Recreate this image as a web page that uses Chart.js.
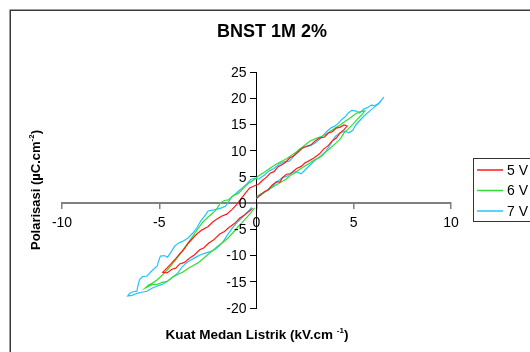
<!DOCTYPE html>
<html><head><meta charset="utf-8">
<script src="https://cdn.jsdelivr.net/npm/chart.js@4/dist/chart.umd.min.js"></script>
<style>html,body{margin:0;padding:0;background:#fff;}canvas{display:block;}</style>
</head><body>
<canvas id="c" width="530" height="352"></canvas>
<script>
const chartTitle = 'BNST 1M 2%';
const xTitle = ['Kuat Medan Listrik (kV.cm ', '-1', ')'];
const yTitle = ['Polarisasi (µC.cm', '-2', ')'];
const seriesLabels = ['5 V', '6 V', '7 V'];
const xTicks = [-10, -5, 0, 5, 10];
const yTicks = [-20, -15, -10, -5, 0, 5, 10, 15, 20, 25];

// 5 V loop: E (kV/cm) and P (uC/cm2)
const e5 = [0.0,0.2,0.42,0.6,0.8,1.03,1.2,1.35,1.54,1.75,2.06,2.3,2.5,2.72,2.95,3.24,3.45,3.7,3.9,4.1,4.3,4.5,4.66,
 4.5,4.3,4.1,3.9,3.7,3.5,3.24,3.0,2.8,2.6,2.36,2.1,1.9,1.7,1.5,1.34,1.1,0.9,0.7,0.5,0.3,0.1,-0.1,-0.35,-0.55,-0.8,-1.02,-1.25,-1.53,-1.8,-2.05,-2.25,-2.5,-2.8,-3.07,-3.3,-3.5,-3.75,-3.95,-4.15,-4.4,-4.61,-4.82,
 -4.6,-4.35,-4.15,-3.95,-3.7,-3.45,-3.2,-2.92,-2.7,-2.45,-2.2,-1.89,-1.65,-1.4,-1.1,-0.87,-0.6,-0.4,-0.2];
const p5 = [0.9,1.5,2.2,2.5,3.4,4.1,4.0,4.9,5.5,5.6,6.6,7.0,7.7,8.1,8.6,9.4,10.3,11.0,11.9,12.4,13.4,14.0,14.7,
 14.9,14.5,14.3,13.6,13.4,12.6,12.4,11.8,11.1,10.9,10.5,9.6,9.0,8.6,7.8,7.4,6.9,6.0,5.7,4.9,4.3,3.6,3.3,2.9,2.0,0.8,-0.3,-1.2,-2.1,-2.5,-3.1,-3.6,-4.5,-5.1,-5.9,-6.8,-7.6,-8.9,-9.7,-10.6,-11.6,-12.4,-13.2,
 -13.3,-12.6,-12.4,-11.6,-11.3,-10.5,-9.9,-8.9,-8.5,-7.6,-7.0,-5.9,-5.4,-4.6,-3.8,-2.9,-2.2,-1.6,-1.0];

// 6 V loop
const e6 = [0.0,0.3,0.6,0.9,1.2,1.5,1.75,1.95,2.2,2.45,2.73,3.0,3.2,3.36,3.6,3.8,4.04,4.3,4.5,4.71,4.95,5.19,5.4,5.57,
 5.3,5.08,4.8,4.56,4.3,4.04,3.7,3.41,3.1,2.73,2.4,2.2,1.95,1.6,1.32,1.0,0.64,0.4,0.12,-0.15,-0.4,-0.65,-0.92,-1.2,-1.45,-1.65,-1.85,-2.05,-2.25,-2.5,-2.75,-3.0,-3.27,-3.5,-3.8,-4.05,-4.32,-4.6,-4.84,-5.1,-5.36,-5.55,-5.73,
 -5.4,-5.1,-4.85,-4.58,-4.3,-4.05,-3.8,-3.5,-3.25,-3.01,-2.75,-2.5,-2.23,-1.95,-1.7,-1.45,-1.2,-0.95,-0.77,-0.55,-0.3,-0.1];
const p6 = [1.3,1.8,2.5,3.2,3.9,4.5,5.3,5.7,6.4,7.0,7.6,8.3,8.6,9.0,9.9,10.5,11.3,12.2,13.4,14.1,15.0,16.0,16.8,17.6,
 17.4,17.0,16.2,15.6,14.9,14.3,13.4,12.8,12.4,11.8,10.8,10.2,9.5,8.6,8.0,7.4,6.5,5.9,5.2,4.4,3.8,2.9,1.9,1.4,0.6,0.5,0.1,-1.2,-1.9,-2.7,-3.6,-4.8,-6.3,-7.5,-9.0,-10.3,-11.6,-12.8,-13.7,-14.6,-15.3,-15.6,-16.2,
 -15.6,-15.5,-15.1,-14.9,-14.1,-13.6,-13.2,-12.4,-11.9,-11.4,-10.6,-9.8,-9.0,-8.1,-7.4,-6.6,-5.6,-4.5,-3.8,-2.9,-1.9,-0.9];

// 7 V loop
const e7 = [0.0,0.15,0.35,0.6,0.85,1.1,1.35,1.55,1.8,2.05,2.3,2.55,2.8,3.05,3.3,3.55,3.8,4.05,4.3,4.55,4.75,4.95,5.1,5.3,5.55,5.8,6.05,6.3,6.45,6.55,
 6.3,6.1,5.9,5.7,5.5,5.3,5.08,4.9,4.72,4.55,4.4,4.2,4.04,3.85,3.62,3.45,3.25,3.0,2.73,2.45,2.21,1.95,1.69,1.45,1.16,0.9,0.64,0.4,0.12,-0.1,-0.3,-0.51,-0.7,-0.92,-1.1,-1.29,-1.45,-1.6,-1.8,-1.97,-2.2,-2.49,-2.65,-2.86,-3.05,-3.27,-3.5,-3.8,-4.0,-4.21,-4.4,-4.58,-4.75,-4.94,-5.05,-5.1,-5.35,-5.63,-5.85,-6.0,-6.1,-6.15,-6.35,-6.52,-6.62,
 -6.4,-6.15,-5.9,-5.63,-5.35,-5.1,-4.85,-4.58,-4.3,-4.06,-3.85,-3.64,-3.4,-3.11,-2.85,-2.59,-2.35,-2.12,-1.9,-1.71,-1.5,-1.29,-1.1,-0.92,-0.75,-0.55,-0.4,-0.25];
const p7 = [0.8,1.6,2.0,2.6,3.3,4.2,4.9,5.1,5.8,6.0,5.6,6.5,7.4,8.3,9.0,9.8,11.2,12.7,13.4,13.7,13.4,13.9,14.9,15.7,16.7,17.5,18.3,19.0,19.8,20.2,
 19.1,18.6,18.7,18.2,17.9,17.2,17.6,17.7,17.2,16.4,16.0,15.2,14.7,14.4,13.7,13.0,12.2,11.4,10.9,10.6,10.3,9.1,8.0,7.9,7.4,6.6,6.1,5.3,4.6,4.7,4.5,3.6,3.0,2.3,1.7,1.1,0.2,-0.6,-0.9,-1.1,-1.3,-1.5,-2.4,-3.4,-4.6,-5.7,-6.6,-7.3,-7.6,-8.2,-9.4,-10.3,-10.0,-10.1,-11.2,-12.0,-12.8,-13.9,-14.0,-14.5,-15.8,-16.8,-16.9,-17.2,-17.7,
 -17.6,-17.2,-17.0,-16.8,-16.2,-15.8,-15.5,-14.9,-14.1,-13.4,-12.3,-11.5,-10.9,-10.3,-9.8,-9.5,-9.2,-8.8,-8.1,-7.3,-6.1,-5.0,-4.1,-3.4,-2.8,-2.0,-1.5,-0.8];

const seriesColors = ['#ff1a1a', '#33dd33', '#22c4ff'];
const toPts = (xs, ys) => xs.map((x, i) => ({x: x, y: ys[i]}));
const FONT = '"Liberation Sans", Arial, sans-serif';

function drawRich(ctx, parts, size, cx, cy) {
  const supSize = Math.round(size * 0.62);
  const widths = parts.map((t, i) => {
    ctx.font = 'bold ' + (i === 1 ? supSize : size) + 'px ' + FONT;
    return ctx.measureText(t).width;
  });
  const total = widths.reduce((a, b) => a + b, 0);
  let x = cx - total / 2;
  ctx.textBaseline = 'alphabetic';
  ctx.textAlign = 'left';
  parts.forEach((t, i) => {
    ctx.font = 'bold ' + (i === 1 ? supSize : size) + 'px ' + FONT;
    ctx.fillText(t, x, i === 1 ? cy - size * 0.45 : cy);
    x += widths[i];
  });
}

const decor = {
  id: 'decor',
  beforeDraw(chart) {
    const ctx = chart.ctx;
    ctx.save();
    ctx.fillStyle = '#fff';
    ctx.fillRect(0, 0, chart.width, chart.height);
    ctx.restore();
  },
  afterDraw(chart) {
    const ctx = chart.ctx;
    const xs = chart.scales.x, ys = chart.scales.y;
    ctx.save();
    // y tick labels, placed left of the centred y axis
    const axisX = xs.getPixelForValue(0);
    ctx.fillStyle = '#000';
    ctx.font = '14px ' + FONT;
    ctx.textAlign = 'right';
    ctx.textBaseline = 'middle';
    ys.ticks.forEach(t => {
      ctx.fillText(String(t.value), axisX - 10, ys.getPixelForValue(t.value) + 1);
    });
    // outer frame
    ctx.strokeStyle = '#3a3a3a';
    ctx.lineWidth = 1.5;
    ctx.strokeRect(10.25, 10.25, 560, 400);
    // title
    ctx.fillStyle = '#000';
    ctx.font = 'bold 18px ' + FONT;
    ctx.textAlign = 'center';
    ctx.textBaseline = 'middle';
    ctx.fillText(chartTitle, 272, 32);
    // axis titles
    drawRich(ctx, xTitle, 13.5, 257, 339);
    ctx.save();
    ctx.translate(40, 190);
    ctx.rotate(-Math.PI / 2);
    drawRich(ctx, yTitle, 13, 0, 0);
    ctx.restore();
    // legend
    ctx.strokeStyle = '#333';
    ctx.lineWidth = 1;
    ctx.strokeRect(473.5, 158.5, 80, 63);
    chart.data.datasets.forEach((ds, i) => {
      const y = 170 + i * 20.5;
      ctx.strokeStyle = ds.borderColor;
      ctx.lineWidth = 1.5;
      ctx.beginPath();
      ctx.moveTo(477, y);
      ctx.lineTo(503, y);
      ctx.stroke();
      ctx.fillStyle = '#000';
      ctx.font = '14px ' + FONT;
      ctx.textAlign = 'left';
      ctx.textBaseline = 'middle';
      ctx.fillText(ds.label, 507, y + 1);
    });
    ctx.restore();
  }
};

const datasets = [toPts(e5, p5), toPts(e6, p6), toPts(e7, p7)].map((d, i) => ({
  label: seriesLabels[i],
  data: d,
  showLine: true,
  borderColor: seriesColors[i],
  backgroundColor: seriesColors[i],
  borderWidth: 1.2,
  pointRadius: 0,
  tension: 0,
  fill: false
}));

new Chart(document.getElementById('c'), {
  type: 'scatter',
  data: { datasets: datasets },
  options: {
    responsive: false,
    animation: false,
    devicePixelRatio: 1,
    layout: { padding: { left: 62, right: 79, top: 72, bottom: 44 } },
    plugins: { legend: { display: false }, title: { display: false }, tooltip: { enabled: false } },
    scales: {
      x: {
        type: 'linear', min: -10, max: 10,
        position: { y: 0 },
        afterBuildTicks: (s) => { s.ticks = xTicks.map(v => ({value: v})); },
        ticks: { font: { size: 14, family: FONT }, color: '#000', padding: 7, maxRotation: 0, autoSkip: false },
        grid: { display: true, drawOnChartArea: false, drawTicks: true, tickLength: 5, color: '#808080', lineWidth: 1.5 },
        border: { display: true, color: '#808080', width: 2 }
      },
      y: {
        type: 'linear', min: -20, max: 25,
        position: { x: 0 },
        afterBuildTicks: (s) => { s.ticks = yTicks.map(v => ({value: v})); },
        ticks: { display: false, autoSkip: false },
        grid: { display: true, drawOnChartArea: false, drawTicks: true, tickLength: 6, color: '#000', lineWidth: 1 },
        border: { display: true, color: '#000', width: 1 }
      }
    }
  },
  plugins: [decor]
});
</script>
</body></html>
